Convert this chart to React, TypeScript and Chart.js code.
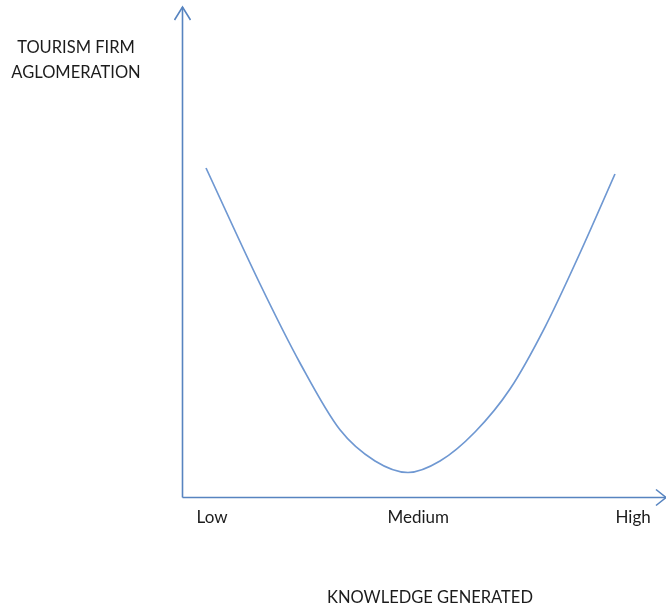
import React, { useEffect, useRef } from "react";
import { Chart, registerables } from "chart.js";

Chart.register(...registerables);

// Knowledge generated (x, 0-100) vs tourism firm agglomeration (y, 0-100)
const knowledge = [4.96, 16.12, 24.38, 32.64, 39.88, 46.69, 53.31, 60.54, 67.77, 75.0, 82.23, 89.46];
const agglomeration = [67.14, 43.47, 27.35, 13.71, 7.35, 5.0, 7.35, 13.27, 22.04, 34.69, 49.8, 65.92];
const tickLabels = ["Low", "Medium", "High"];
const tickValues = [6.2, 48.8, 93.2];
const xTitle = "KNOWLEDGE GENERATED";
const yTitle = ["TOURISM FIRM", "AGLOMERATION"];

const AXIS_COLOR = "#5784c0";
const LINE_COLOR = "#6f98d2";
const TEXT_COLOR = "#1c1c1c";
const TITLE_FONT = "16.5px Lato, 'Open Sans', sans-serif";
const TICK_FONT = "17px Lato, 'Open Sans', sans-serif";

const axesPlugin = {
  id: "arrowAxes",
  afterDraw(chart: any) {
    const { ctx, chartArea } = chart;
    const xs = chart.scales.x;
    const ys = chart.scales.y;
    const x0 = Math.round(xs.getPixelForValue(0)) + 0.5;
    const y0 = Math.round(ys.getPixelForValue(0)) + 0.5;
    const yTop = ys.getPixelForValue(100);
    const xRight = xs.getPixelForValue(100);
    ctx.save();
    ctx.strokeStyle = AXIS_COLOR;
    ctx.lineWidth = 1.6;
    ctx.beginPath();
    ctx.moveTo(x0, y0);
    ctx.lineTo(x0, yTop);
    ctx.moveTo(x0, y0);
    ctx.lineTo(xRight, y0);
    ctx.stroke();
    // arrow heads
    ctx.beginPath();
    ctx.moveTo(x0 - 8, yTop + 13);
    ctx.lineTo(x0, yTop);
    ctx.lineTo(x0 + 8, yTop + 13);
    ctx.moveTo(xRight - 10, y0 - 8);
    ctx.lineTo(xRight, y0);
    ctx.lineTo(xRight - 10, y0 + 8);
    ctx.stroke();

    ctx.fillStyle = TEXT_COLOR;
    ctx.textAlign = "center";
    ctx.textBaseline = "middle";
    ctx.font = TICK_FONT;
    tickValues.forEach((v, i) => {
      ctx.fillText(tickLabels[i], xs.getPixelForValue(v), y0 + 20);
    });
    ctx.font = TITLE_FONT;
    ctx.fillText(xTitle, (chartArea.left + chartArea.right) / 2 + 6, y0 + 100);
    yTitle.forEach((t, i) => {
      ctx.fillText(t, 76, 48 + i * 25);
    });
    ctx.restore();
  },
};

export default function App() {
  const ref = useRef<HTMLCanvasElement | null>(null);
  useEffect(() => {
    if (!ref.current) return;
    const chart = new Chart(ref.current, {
      type: "line",
      data: {
        datasets: [
          {
            data: knowledge.map((x, i) => ({ x, y: agglomeration[i] })),
            borderColor: LINE_COLOR,
            borderWidth: 1.7,
            pointRadius: 0,
            cubicInterpolationMode: "monotone",
            fill: false,
          },
        ],
      },
      options: {
        animation: false,
        responsive: false,
        maintainAspectRatio: false,
        layout: { padding: { left: 182, right: 0, top: 7, bottom: 108 } },
        plugins: { legend: { display: false }, tooltip: { enabled: false } },
        scales: {
          x: { type: "linear", min: 0, max: 100, display: false },
          y: { type: "linear", min: 0, max: 100, display: false },
        },
      },
      plugins: [axesPlugin],
    });
    return () => chart.destroy();
  }, []);
  return (
    <div style={{ position: "absolute", left: 0, top: 0, width: 666, height: 605, background: "#fff" }}>
      <canvas ref={ref} width={666} height={605} />
    </div>
  );
}
